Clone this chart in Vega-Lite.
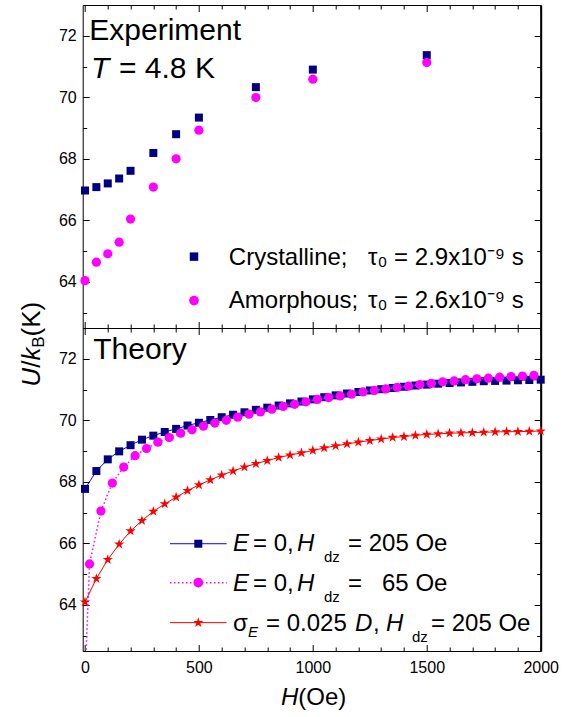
{
"$schema": "https://vega.github.io/schema/vega-lite/v6.json",
"width": 458,
"height": 646,
"autosize": {"type": "none"},
"padding": {"left": 82.7, "top": 5, "right": 28.3, "bottom": 66},
"background": "white",
"config": {
  "font": "Liberation Sans",
  "view": {"stroke": "black", "strokeWidth": 1},
  "axis": {"labelFont": "Liberation Sans", "labelFontSize": 16, "labelColor": "black", "tickColor": "black", "tickWidth": 1, "domain": false, "grid": false, "labelFlush": false, "labelOverlap": false, "format": "d"},
  "text": {"font": "Liberation Sans", "color": "black", "align": "left", "baseline": "alphabetic"}
},
"datasets": {
  "cryst": [{"H":0,"U":66.97},{"H":50,"U":67.08},{"H":100,"U":67.2},{"H":150,"U":67.36},{"H":200,"U":67.61},{"H":300,"U":68.19},{"H":400,"U":68.8},{"H":500,"U":69.34},{"H":750,"U":70.33},{"H":1000,"U":70.9},{"H":1500,"U":71.37}],
  "amor": [{"H":0,"U":64.04},{"H":50,"U":64.64},{"H":100,"U":64.91},{"H":150,"U":65.29},{"H":200,"U":66.04},{"H":300,"U":67.08},{"H":400,"U":68.0},{"H":500,"U":68.93},{"H":750,"U":69.99},{"H":1000,"U":70.59},{"H":1500,"U":71.13}],
  "thA": [{"H":0,"U":67.77},{"H":50,"U":68.35},{"H":100,"U":68.73},{"H":150,"U":68.99},{"H":200,"U":69.19},{"H":250,"U":69.37},{"H":300,"U":69.5},{"H":350,"U":69.62},{"H":400,"U":69.72},{"H":450,"U":69.83},{"H":500,"U":69.92},{"H":550,"U":70.01},{"H":600,"U":70.1},{"H":650,"U":70.18},{"H":700,"U":70.26},{"H":750,"U":70.34},{"H":800,"U":70.41},{"H":850,"U":70.48},{"H":900,"U":70.55},{"H":950,"U":70.61},{"H":1000,"U":70.68},{"H":1050,"U":70.75},{"H":1100,"U":70.81},{"H":1150,"U":70.87},{"H":1200,"U":70.92},{"H":1250,"U":70.97},{"H":1300,"U":71.01},{"H":1350,"U":71.05},{"H":1400,"U":71.09},{"H":1450,"U":71.13},{"H":1500,"U":71.16},{"H":1550,"U":71.19},{"H":1600,"U":71.21},{"H":1650,"U":71.23},{"H":1700,"U":71.25},{"H":1750,"U":71.27},{"H":1800,"U":71.28},{"H":1850,"U":71.29},{"H":1900,"U":71.3},{"H":1950,"U":71.31},{"H":2000,"U":71.32}],
  "thB": [{"H":0,"U":61.5},{"H":20,"U":65.33},{"H":70,"U":67.05},{"H":120,"U":67.96},{"H":170,"U":68.48},{"H":220,"U":68.85},{"H":270,"U":69.08},{"H":320,"U":69.29},{"H":370,"U":69.44},{"H":420,"U":69.58},{"H":470,"U":69.69},{"H":520,"U":69.81},{"H":570,"U":69.91},{"H":620,"U":70.0},{"H":670,"U":70.1},{"H":720,"U":70.2},{"H":770,"U":70.27},{"H":820,"U":70.36},{"H":870,"U":70.45},{"H":920,"U":70.52},{"H":970,"U":70.6},{"H":1020,"U":70.68},{"H":1070,"U":70.74},{"H":1120,"U":70.79},{"H":1170,"U":70.85},{"H":1220,"U":70.92},{"H":1270,"U":70.97},{"H":1320,"U":71.02},{"H":1370,"U":71.07},{"H":1420,"U":71.11},{"H":1470,"U":71.16},{"H":1520,"U":71.2},{"H":1570,"U":71.25},{"H":1620,"U":71.28},{"H":1670,"U":71.32},{"H":1720,"U":71.35},{"H":1770,"U":71.37},{"H":1820,"U":71.4},{"H":1870,"U":71.42},{"H":1920,"U":71.44},{"H":1970,"U":71.46}],
  "thC": [{"H":0,"U":64.09},{"H":50,"U":64.85},{"H":100,"U":65.47},{"H":150,"U":65.97},{"H":200,"U":66.4},{"H":250,"U":66.74},{"H":300,"U":67.04},{"H":350,"U":67.28},{"H":400,"U":67.5},{"H":450,"U":67.71},{"H":500,"U":67.9},{"H":550,"U":68.06},{"H":600,"U":68.22},{"H":650,"U":68.35},{"H":700,"U":68.48},{"H":750,"U":68.59},{"H":800,"U":68.69},{"H":850,"U":68.79},{"H":900,"U":68.87},{"H":950,"U":68.94},{"H":1000,"U":69.02},{"H":1050,"U":69.1},{"H":1100,"U":69.17},{"H":1150,"U":69.23},{"H":1200,"U":69.29},{"H":1250,"U":69.34},{"H":1300,"U":69.39},{"H":1350,"U":69.44},{"H":1400,"U":69.47},{"H":1450,"U":69.51},{"H":1500,"U":69.54},{"H":1550,"U":69.56},{"H":1600,"U":69.58},{"H":1650,"U":69.59},{"H":1700,"U":69.6},{"H":1750,"U":69.61},{"H":1800,"U":69.62},{"H":1850,"U":69.63},{"H":1900,"U":69.63},{"H":1950,"U":69.64},{"H":2000,"U":69.65}],
  "one": [{}]
},
"resolve": {"scale": {"y": "independent"}, "axis": {"x": "independent", "y": "independent"}},
"layer": [
{
  "resolve": {"axis": {"x": "independent", "y": "independent"}},
  "layer": [
    {"data": {"name": "one"}, "mark": {"type": "text", "text": "Experiment", "fontSize": 30},
     "encoding": {
       "x": {"datum": 19, "type": "quantitative", "scale": {"domain": [-10, 2000], "nice": false, "zero": false}, "axis": {"orient": "bottom", "offset": -323, "values": [0,500,1000,1500,2000], "tickSize": -6.5, "labels": false, "title": null, "domain": true, "domainColor": "black", "domainWidth": 1}},
       "y": {"datum": 71.863, "type": "quantitative", "scale": {"domain": [62.5, 73], "range": [323, 0], "nice": false, "zero": false}, "axis": {"orient": "left", "values": [64,66,68,70,72], "tickSize": -6.5, "labelPadding": 13, "title": null}}}},
    {"data": {"name": "one"}, "mark": {"type": "text", "text": "T", "fontSize": 30, "fontStyle": "italic"},
     "encoding": {
       "x": {"datum": 26.4, "type": "quantitative", "axis": {"orient": "bottom", "offset": -323, "values": [100,200,300,400,600,700,800,900,1100,1200,1300,1400,1600,1700,1800,1900], "tickSize": -4, "labels": false, "title": null}},
       "y": {"datum": 70.619, "type": "quantitative", "axis": {"orient": "left", "values": [63,65,67,69,71], "tickSize": -4, "labels": false, "title": null}}}},
    {"data": {"name": "one"}, "mark": {"type": "text", "text": "= 4.8 K", "fontSize": 30},
     "encoding": {
       "x": {"datum": 149.3, "type": "quantitative", "axis": {"orient": "top", "values": [0,500,1000,1500,2000], "tickSize": -6.5, "labels": false, "title": null}},
       "y": {"datum": 70.619, "type": "quantitative", "axis": {"orient": "right", "values": [64,66,68,70,72], "tickSize": -6.5, "labels": false, "title": null, "domain": true, "domainWidth": 2, "domainColor": "black"}}}},
    {"data": {"name": "one"}, "mark": {"type": "text", "text": "Crystalline;", "fontSize": 24},
     "encoding": {
       "x": {"datum": 631.2, "type": "quantitative", "axis": {"orient": "top", "values": [100,200,300,400,600,700,800,900,1100,1200,1300,1400,1600,1700,1800,1900], "tickSize": -4, "labels": false, "title": null}},
       "y": {"datum": 64.556, "type": "quantitative", "axis": {"orient": "right", "values": [63,65,67,69,71], "tickSize": -4, "labels": false, "title": null}}}},
    {"data": {"name": "one"}, "mark": {"type": "text", "text": "τ₀ = 2.9x10⁻⁹ s", "fontSize": 24},
     "encoding": {"x": {"datum": 1242.1, "type": "quantitative", "axis": null}, "y": {"datum": 64.556, "type": "quantitative", "axis": null}}},
    {"data": {"name": "one"}, "mark": {"type": "text", "text": "Amorphous;", "fontSize": 24},
     "encoding": {"x": {"datum": 631.2, "type": "quantitative", "axis": null}, "y": {"datum": 63.16, "type": "quantitative", "axis": null}}},
    {"data": {"name": "one"}, "mark": {"type": "text", "text": "τ₀ = 2.6x10⁻⁹ s", "fontSize": 24},
     "encoding": {"x": {"datum": 1242.1, "type": "quantitative", "axis": null}, "y": {"datum": 63.16, "type": "quantitative", "axis": null}}},
    {"data": {"name": "one"}, "mark": {"type": "point", "shape": "square", "filled": true, "size": 72, "color": "#000080", "opacity": 1},
     "encoding": {"x": {"datum": 478.5, "type": "quantitative", "axis": null}, "y": {"datum": 64.82, "type": "quantitative", "axis": null}}},
    {"data": {"name": "one"}, "mark": {"type": "point", "shape": "circle", "filled": true, "size": 95, "color": "#FF00FF", "opacity": 1},
     "encoding": {"x": {"datum": 478.5, "type": "quantitative", "axis": null}, "y": {"datum": 63.39, "type": "quantitative", "axis": null}}},
    {"data": {"name": "cryst"}, "mark": {"type": "point", "shape": "square", "filled": true, "size": 64, "color": "#000080", "opacity": 1},
     "encoding": {"x": {"field": "H", "type": "quantitative", "axis": null}, "y": {"field": "U", "type": "quantitative", "axis": null}}},
    {"data": {"name": "amor"}, "mark": {"type": "point", "shape": "circle", "filled": true, "size": 85, "color": "#FF00FF", "opacity": 1},
     "encoding": {"x": {"field": "H", "type": "quantitative", "axis": null}, "y": {"field": "U", "type": "quantitative", "axis": null}}}
  ]
},
{
  "resolve": {"axis": {"x": "independent", "y": "independent"}},
  "layer": [
    {"data": {"name": "one"}, "mark": {"type": "text", "text": "Theory", "fontSize": 30},
     "encoding": {
       "x": {"datum": 36.5, "type": "quantitative", "axis": {"orient": "bottom", "values": [0,500,1000,1500,2000], "tickSize": -6.5, "labelPadding": 14.5, "title": null}},
       "y": {"datum": 72.003, "type": "quantitative", "scale": {"domain": [62.5, 73], "range": [646, 323], "nice": false, "zero": false}, "axis": {"orient": "left", "values": [64,66,68,70,72], "tickSize": -6.5, "labelPadding": 13, "title": null}}}},
    {"data": {"name": "thA"}, "mark": {"type": "line", "color": "#0000FF", "strokeWidth": 1},
     "encoding": {
       "x": {"field": "H", "type": "quantitative", "axis": {"orient": "bottom", "values": [100,200,300,400,600,700,800,900,1100,1200,1300,1400,1600,1700,1800,1900], "tickSize": -4, "labels": false, "title": null}},
       "y": {"field": "U", "type": "quantitative", "axis": {"orient": "left", "values": [63,65,67,69,71], "tickSize": -4, "labels": false, "title": null}}}},
    {"data": {"name": "thA"}, "mark": {"type": "point", "shape": "square", "filled": true, "size": 64, "color": "#000080", "opacity": 1},
     "encoding": {
       "x": {"field": "H", "type": "quantitative", "axis": {"orient": "top", "offset": -323, "values": [0,500,1000,1500,2000], "tickSize": -6.5, "labels": false, "title": null}},
       "y": {"field": "U", "type": "quantitative", "axis": {"orient": "right", "values": [64,66,68,70,72], "tickSize": -6.5, "labels": false, "title": null, "domain": true, "domainWidth": 2, "domainColor": "black"}}}},
    {"data": {"name": "thB"}, "mark": {"type": "line", "color": "#FF00FF", "strokeWidth": 1.5, "strokeDash": [1.5, 2.5], "clip": true},
     "encoding": {
       "x": {"field": "H", "type": "quantitative", "axis": {"orient": "top", "offset": -323, "values": [100,200,300,400,600,700,800,900,1100,1200,1300,1400,1600,1700,1800,1900], "tickSize": -4, "labels": false, "title": null}},
       "y": {"field": "U", "type": "quantitative", "axis": {"orient": "right", "values": [63,65,67,69,71], "tickSize": -4, "labels": false, "title": null}}}},
    {"data": {"name": "thB"}, "mark": {"type": "point", "shape": "circle", "filled": true, "size": 85, "color": "#FF00FF", "opacity": 1, "clip": true},
     "encoding": {"x": {"field": "H", "type": "quantitative", "axis": null}, "y": {"field": "U", "type": "quantitative", "axis": null}}},
    {"data": {"name": "thC"}, "mark": {"type": "line", "color": "#FF0000", "strokeWidth": 1},
     "encoding": {"x": {"field": "H", "type": "quantitative", "axis": null}, "y": {"field": "U", "type": "quantitative", "axis": null}}},
    {"data": {"name": "thC"}, "mark": {"type": "point", "shape": "M0,-1L0.225,-0.309L0.951,-0.309L0.363,0.118L0.588,0.809L0,0.382L-0.588,0.809L-0.363,0.118L-0.951,-0.309L-0.225,-0.309Z", "filled": true, "size": 115, "color": "#FF0000", "opacity": 1},
     "encoding": {"x": {"field": "H", "type": "quantitative", "axis": null}, "y": {"field": "U", "type": "quantitative", "axis": null}}},
    {"data": {"name": "one"}, "mark": {"type": "rule", "color": "#0000FF", "strokeWidth": 1},
     "encoding": {"x": {"datum": 373.1, "type": "quantitative", "axis": null}, "x2": {"datum": 622}, "y": {"datum": 65.987, "type": "quantitative", "axis": null}}},
    {"data": {"name": "one"}, "mark": {"type": "rule", "color": "#FF00FF", "strokeWidth": 1.5, "strokeDash": [1.5, 2.5]},
     "encoding": {"x": {"datum": 373.1, "type": "quantitative", "axis": null}, "x2": {"datum": 622}, "y": {"datum": 64.721, "type": "quantitative", "axis": null}}},
    {"data": {"name": "one"}, "mark": {"type": "rule", "color": "#FF0000", "strokeWidth": 1},
     "encoding": {"x": {"datum": 373.1, "type": "quantitative", "axis": null}, "x2": {"datum": 622}, "y": {"datum": 63.422, "type": "quantitative", "axis": null}}},
    {"data": {"name": "one"}, "mark": {"type": "point", "shape": "square", "filled": true, "size": 64, "color": "#000080", "opacity": 1},
     "encoding": {"x": {"datum": 497.3, "type": "quantitative", "axis": null}, "y": {"datum": 65.987, "type": "quantitative", "axis": null}}},
    {"data": {"name": "one"}, "mark": {"type": "point", "shape": "circle", "filled": true, "size": 95, "color": "#FF00FF", "opacity": 1},
     "encoding": {"x": {"datum": 497.3, "type": "quantitative", "axis": null}, "y": {"datum": 64.721, "type": "quantitative", "axis": null}}},
    {"data": {"name": "one"}, "mark": {"type": "point", "shape": "M0,-1L0.225,-0.309L0.951,-0.309L0.363,0.118L0.588,0.809L0,0.382L-0.588,0.809L-0.363,0.118L-0.951,-0.309L-0.225,-0.309Z", "filled": true, "size": 115, "color": "#FF0000", "opacity": 1},
     "encoding": {"x": {"datum": 497.3, "type": "quantitative", "axis": null}, "y": {"datum": 63.422, "type": "quantitative", "axis": null}}},

    {"data": {"name": "one"}, "mark": {"type": "text", "text": "E", "fontSize": 24, "fontStyle": "italic"},
     "encoding": {"x": {"datum": 649.6, "type": "quantitative", "axis": null}, "y": {"datum": 65.747, "type": "quantitative", "axis": null}}},
    {"data": {"name": "one"}, "mark": {"type": "text", "text": "= 0,", "fontSize": 24},
     "encoding": {"x": {"datum": 737.4, "type": "quantitative", "axis": null}, "y": {"datum": 65.747, "type": "quantitative", "axis": null}}},
    {"data": {"name": "one"}, "mark": {"type": "text", "text": "H", "fontSize": 24, "fontStyle": "italic"},
     "encoding": {"x": {"datum": 930.5, "type": "quantitative", "axis": null}, "y": {"datum": 65.747, "type": "quantitative", "axis": null}}},
    {"data": {"name": "one"}, "mark": {"type": "text", "text": "dz", "fontSize": 15},
     "encoding": {"x": {"datum": 1049.0, "type": "quantitative", "axis": null}, "y": {"datum": 65.39, "type": "quantitative", "axis": null}}},
    {"data": {"name": "one"}, "mark": {"type": "text", "text": "= 205 Oe", "fontSize": 24},
     "encoding": {"x": {"datum": 1154.3, "type": "quantitative", "axis": null}, "y": {"datum": 65.747, "type": "quantitative", "axis": null}}},

    {"data": {"name": "one"}, "mark": {"type": "text", "text": "E", "fontSize": 24, "fontStyle": "italic"},
     "encoding": {"x": {"datum": 649.6, "type": "quantitative", "axis": null}, "y": {"datum": 64.448, "type": "quantitative", "axis": null}}},
    {"data": {"name": "one"}, "mark": {"type": "text", "text": "= 0,", "fontSize": 24},
     "encoding": {"x": {"datum": 737.4, "type": "quantitative", "axis": null}, "y": {"datum": 64.448, "type": "quantitative", "axis": null}}},
    {"data": {"name": "one"}, "mark": {"type": "text", "text": "H", "fontSize": 24, "fontStyle": "italic"},
     "encoding": {"x": {"datum": 930.5, "type": "quantitative", "axis": null}, "y": {"datum": 64.448, "type": "quantitative", "axis": null}}},
    {"data": {"name": "one"}, "mark": {"type": "text", "text": "dz", "fontSize": 15},
     "encoding": {"x": {"datum": 1049.0, "type": "quantitative", "axis": null}, "y": {"datum": 64.091, "type": "quantitative", "axis": null}}},
    {"data": {"name": "one"}, "mark": {"type": "text", "text": "=\u00a0\u00a0\u00a065 Oe", "fontSize": 24},
     "encoding": {"x": {"datum": 1154.3, "type": "quantitative", "axis": null}, "y": {"datum": 64.448, "type": "quantitative", "axis": null}}},

    {"data": {"name": "one"}, "mark": {"type": "text", "text": "σ", "fontSize": 24},
     "encoding": {"x": {"datum": 649.6, "type": "quantitative", "axis": null}, "y": {"datum": 63.149, "type": "quantitative", "axis": null}}},
    {"data": {"name": "one"}, "mark": {"type": "text", "text": "E", "fontSize": 15, "fontStyle": "italic"},
     "encoding": {"x": {"datum": 715.4, "type": "quantitative", "axis": null}, "y": {"datum": 62.945, "type": "quantitative", "axis": null}}},
    {"data": {"name": "one"}, "mark": {"type": "text", "text": "= 0.025", "fontSize": 24},
     "encoding": {"x": {"datum": 794.4, "type": "quantitative", "axis": null}, "y": {"datum": 63.149, "type": "quantitative", "axis": null}}},
    {"data": {"name": "one"}, "mark": {"type": "text", "text": "D", "fontSize": 24, "fontStyle": "italic"},
     "encoding": {"x": {"datum": 1185.0, "type": "quantitative", "axis": null}, "y": {"datum": 63.149, "type": "quantitative", "axis": null}}},
    {"data": {"name": "one"}, "mark": {"type": "text", "text": ",", "fontSize": 24},
     "encoding": {"x": {"datum": 1264.0, "type": "quantitative", "axis": null}, "y": {"datum": 63.149, "type": "quantitative", "axis": null}}},
    {"data": {"name": "one"}, "mark": {"type": "text", "text": "H", "fontSize": 24, "fontStyle": "italic"},
     "encoding": {"x": {"datum": 1321.1, "type": "quantitative", "axis": null}, "y": {"datum": 63.149, "type": "quantitative", "axis": null}}},
    {"data": {"name": "one"}, "mark": {"type": "text", "text": "dz", "fontSize": 15},
     "encoding": {"x": {"datum": 1435.2, "type": "quantitative", "axis": null}, "y": {"datum": 62.782, "type": "quantitative", "axis": null}}},
    {"data": {"name": "one"}, "mark": {"type": "text", "text": "= 205 Oe", "fontSize": 24},
     "encoding": {"x": {"datum": 1518.6, "type": "quantitative", "axis": null}, "y": {"datum": 63.149, "type": "quantitative", "axis": null}}},

    {"data": {"name": "one"}, "mark": {"type": "text", "text": "U", "fontSize": 26, "fontStyle": "italic", "angle": 270},
     "encoding": {"x": {"datum": -197.4, "type": "quantitative", "axis": null}, "y": {"datum": 71.094, "type": "quantitative", "axis": null}}},
    {"data": {"name": "one"}, "mark": {"type": "text", "text": "/", "fontSize": 26, "angle": 270},
     "encoding": {"x": {"datum": -197.4, "type": "quantitative", "axis": null}, "y": {"datum": 71.705, "type": "quantitative", "axis": null}}},
    {"data": {"name": "one"}, "mark": {"type": "text", "text": "k", "fontSize": 26, "fontStyle": "italic", "angle": 270},
     "encoding": {"x": {"datum": -197.4, "type": "quantitative", "axis": null}, "y": {"datum": 71.94, "type": "quantitative", "axis": null}}},
    {"data": {"name": "one"}, "mark": {"type": "text", "text": "B", "fontSize": 17, "angle": 270},
     "encoding": {"x": {"datum": -179.8, "type": "quantitative", "axis": null}, "y": {"datum": 72.36, "type": "quantitative", "axis": null}}},
    {"data": {"name": "one"}, "mark": {"type": "text", "text": "(K)", "fontSize": 26, "angle": 270},
     "encoding": {"x": {"datum": -197.4, "type": "quantitative", "axis": null}, "y": {"datum": 72.727, "type": "quantitative", "axis": null}}},

    {"data": {"name": "one"}, "mark": {"type": "text", "text": "H", "fontSize": 24, "fontStyle": "italic"},
     "encoding": {"x": {"datum": 860.3, "type": "quantitative", "axis": null}, "y": {"datum": 60.737, "type": "quantitative", "axis": null}}},
    {"data": {"name": "one"}, "mark": {"type": "text", "text": "(Oe)", "fontSize": 24},
     "encoding": {"x": {"datum": 936.2, "type": "quantitative", "axis": null}, "y": {"datum": 60.737, "type": "quantitative", "axis": null}}}
  ]
}
]
}
